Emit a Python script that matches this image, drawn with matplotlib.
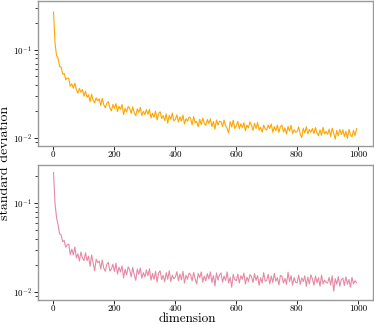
import numpy as np
import matplotlib
matplotlib.use("Agg")
import matplotlib.pyplot as plt
from matplotlib.ticker import FormatStrFormatter

plt.rcParams['font.family'] = 'serif'
plt.rcParams['font.serif'] = ['cmr10', 'DejaVu Serif']
plt.rcParams['mathtext.fontset'] = 'cm'
plt.rcParams['axes.formatter.use_mathtext'] = True

# dimension (every 5th value)
dims = np.arange(1, 1001, 5)

# standard deviation, top panel (orange)
std_top = [
    0.270, 0.118, 0.086, 0.080, 0.065, 0.064, 0.053, 0.054, 0.046, 0.048,
    0.0475, 0.0386, 0.0413, 0.0367, 0.0418, 0.0355, 0.0322, 0.0365, 0.0330, 0.0356,
    0.0298, 0.0340, 0.0289, 0.0309, 0.0258, 0.0314, 0.0269, 0.0250, 0.0286, 0.0263,
    0.0278, 0.0234, 0.0282, 0.0238, 0.0220, 0.0247, 0.0258, 0.0220, 0.0203, 0.0240,
    0.0216, 0.0246, 0.0200, 0.0229, 0.0211, 0.0240, 0.0184, 0.0217, 0.0197, 0.0228,
    0.0216, 0.0190, 0.0226, 0.0193, 0.0179, 0.0214, 0.0195, 0.0222, 0.0179, 0.0201,
    0.0184, 0.0210, 0.0186, 0.0211, 0.0169, 0.0191, 0.0172, 0.0201, 0.0160, 0.0190,
    0.0198, 0.0166, 0.0180, 0.0158, 0.0188, 0.0147, 0.0181, 0.0163, 0.0192, 0.0156,
    0.0163, 0.0183, 0.0152, 0.0174, 0.0155, 0.0182, 0.0144, 0.0166, 0.0155, 0.0172,
    0.0169, 0.0141, 0.0175, 0.0148, 0.0155, 0.0134, 0.0163, 0.0142, 0.0168, 0.0146,
    0.0139, 0.0162, 0.0146, 0.0165, 0.0134, 0.0154, 0.0126, 0.0160, 0.0140, 0.0155,
    0.0153, 0.0135, 0.0160, 0.0138, 0.0128, 0.0114, 0.0153, 0.0133, 0.0159, 0.0128,
    0.0137, 0.0154, 0.0127, 0.0145, 0.0131, 0.0149, 0.0121, 0.0140, 0.0130, 0.0152,
    0.0140, 0.0122, 0.0147, 0.0128, 0.0150, 0.0123, 0.0132, 0.0116, 0.0140, 0.0127,
    0.0123, 0.0140, 0.0128, 0.0144, 0.0116, 0.0134, 0.0121, 0.0140, 0.0116, 0.0134,
    0.0140, 0.0117, 0.0130, 0.0111, 0.0135, 0.0119, 0.0139, 0.0112, 0.0124, 0.0116,
    0.0118, 0.0134, 0.0110, 0.0101, 0.0129, 0.0114, 0.0134, 0.0111, 0.0125, 0.0116,
    0.0128, 0.0112, 0.0131, 0.0114, 0.0106, 0.0124, 0.0107, 0.0132, 0.0111, 0.0119,
    0.0110, 0.0126, 0.0104, 0.0129, 0.0113, 0.0097, 0.0122, 0.0106, 0.0125, 0.0109,
    0.0124, 0.0104, 0.0119, 0.0099, 0.0125, 0.0108, 0.0103, 0.0122, 0.0106, 0.0128,
]

# standard deviation, bottom panel (pink)
std_bottom = [
    0.220, 0.098, 0.068, 0.057, 0.045, 0.044, 0.037, 0.038, 0.032, 0.034,
    0.0347, 0.0264, 0.0305, 0.0262, 0.0322, 0.0243, 0.0270, 0.0224, 0.0283, 0.0242,
    0.0227, 0.0278, 0.0226, 0.0254, 0.0196, 0.0262, 0.0215, 0.0174, 0.0235, 0.0215,
    0.0225, 0.0182, 0.0230, 0.0186, 0.0172, 0.0206, 0.0217, 0.0173, 0.0182, 0.0207,
    0.0171, 0.0212, 0.0160, 0.0191, 0.0169, 0.0198, 0.0145, 0.0181, 0.0157, 0.0193,
    0.0179, 0.0149, 0.0190, 0.0157, 0.0136, 0.0182, 0.0159, 0.0187, 0.0144, 0.0166,
    0.0149, 0.0178, 0.0153, 0.0183, 0.0137, 0.0163, 0.0140, 0.0172, 0.0130, 0.0165,
    0.0174, 0.0139, 0.0155, 0.0131, 0.0166, 0.0140, 0.0174, 0.0132, 0.0156, 0.0142,
    0.0148, 0.0170, 0.0135, 0.0160, 0.0138, 0.0172, 0.0127, 0.0155, 0.0140, 0.0164,
    0.0158, 0.0134, 0.0167, 0.0141, 0.0124, 0.0162, 0.0146, 0.0169, 0.0130, 0.0152,
    0.0134, 0.0162, 0.0141, 0.0169, 0.0129, 0.0154, 0.0118, 0.0165, 0.0137, 0.0157,
    0.0165, 0.0130, 0.0152, 0.0136, 0.0169, 0.0127, 0.0147, 0.0114, 0.0159, 0.0139,
    0.0135, 0.0160, 0.0127, 0.0153, 0.0140, 0.0164, 0.0124, 0.0148, 0.0132, 0.0158,
    0.0150, 0.0129, 0.0162, 0.0136, 0.0154, 0.0120, 0.0146, 0.0127, 0.0166, 0.0133,
    0.0136, 0.0159, 0.0124, 0.0152, 0.0129, 0.0163, 0.0133, 0.0146, 0.0121, 0.0155,
    0.0151, 0.0127, 0.0143, 0.0123, 0.0168, 0.0132, 0.0154, 0.0120, 0.0146, 0.0129,
    0.0128, 0.0156, 0.0123, 0.0145, 0.0132, 0.0153, 0.0117, 0.0148, 0.0124, 0.0157,
    0.0141, 0.0120, 0.0152, 0.0128, 0.0146, 0.0117, 0.0156, 0.0124, 0.0137, 0.0129,
    0.0127, 0.0147, 0.0121, 0.0153, 0.0103, 0.0142, 0.0123, 0.0150, 0.0117, 0.0139,
    0.0144, 0.0119, 0.0149, 0.0123, 0.0139, 0.0114, 0.0147, 0.0124, 0.0135, 0.0128,
]

W, H = 374, 325
fig = plt.figure(figsize=(W / 100, H / 100), dpi=100)

# axes boxes in pixels: left, top, right, bottom
boxes = [(38, 1, 373, 146), (38, 165, 373, 300)]
series = [(std_top, 'orange', (0.0081, 0.36)),
          (std_bottom, '#e58aa6', (0.0082, 0.267))]

for (l, t, r, b), (vals, col, ylim) in zip(boxes, series):
    ax = fig.add_axes([l / W, 1 - b / H, (r - l) / W, (b - t) / H])
    ax.plot(dims, vals, color=col, lw=0.8)
    ax.set_yscale('log')
    ax.set_xlim(-50, 1050)
    ax.set_ylim(*ylim)
    ax.set_xticks([0, 200, 400, 600, 800, 1000])
    ax.xaxis.set_major_formatter(FormatStrFormatter('%d'))
    ax.tick_params(labelsize=6.5, width=0.6, length=3, pad=1.0)
    ax.tick_params(axis='x', pad=0.5)
    ax.tick_params(which='minor', width=0.5, length=2)
    for s in ax.spines.values():
        s.set_color('#999999')
        s.set_linewidth(1.0)

fig.text(0.014, 0.5, 'standard deviation', rotation=90, va='center', ha='center', fontsize=10)
fig.text(0.5, 0.3 / H, 'dimension', ha='center', va='bottom', fontsize=9.5)

fig.savefig('out.png', dpi=100)
